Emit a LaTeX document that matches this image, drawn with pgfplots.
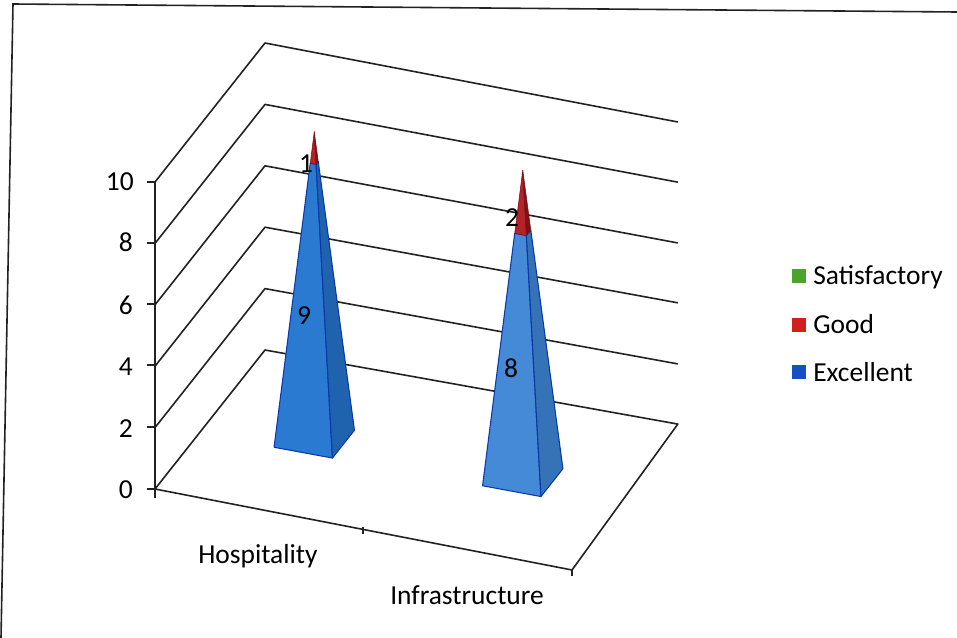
\documentclass[border=0pt]{standalone}
\usepackage{pgfplots}
\pgfplotsset{compat=1.18}
\usepackage{fontspec}
\setmainfont{Carlito}

\definecolor{blueface}{HTML}{2A7AD2}
\definecolor{blueside}{HTML}{1F62AE}
\definecolor{blueedge}{HTML}{0B3AA8}
\definecolor{redface}{HTML}{B4222A}
\definecolor{redside}{HTML}{7C1414}
\definecolor{rededge}{HTML}{7A1018}
\definecolor{greenkey}{HTML}{4BA32C}
\definecolor{redkey}{HTML}{D0201C}
\definecolor{bluekey}{HTML}{1450C0}
\definecolor{inkline}{HTML}{222222}

\begin{document}
% 1 unit of the picture = 1 pixel of the reference
\begin{tikzpicture}[x=0.75pt,y=-0.75pt,font=\fontsize{20.6}{24}\selectfont]
\path[use as bounding box] (0,0) rectangle (957,638);

% scanned frame
\draw[inkline,line width=1.2pt] (957,12) -- (13,4) -- (1,638);

\begin{axis}[
  at={(116.25pt,-366.75pt)}, anchor=origin,
  x={(156.375pt,-28.875pt)}, y={(82.5pt,104.25pt)}, z={(0pt,23.025pt)},
  xmin=0, xmax=2, ymin=0, ymax=1, zmin=0, zmax=10,
  hide axis, clip=false,
  wall/.style={inkline,line width=1.2pt,no marks},
  every axis plot post/.append style={line join=round},
]
% walls and floor
\addplot3[wall] coordinates {(0,0,10) (0,1,10) (1.98,1,9.91)};
\addplot3[wall] coordinates {(0,0,8) (0,1,8) (1.98,1,7.95)};
\addplot3[wall] coordinates {(0,0,6) (0,1,6) (1.98,1,5.97)};
\addplot3[wall] coordinates {(0,0,4) (0,1,4) (1.98,1,4.02)};
\addplot3[wall] coordinates {(0,0,2) (0,1,2) (1.98,1,2.03)};
\addplot3[wall] coordinates {(0,0,0) (0,1,0) (1.98,1,0.07) (2,0,-0.13) (0,0,0)};

% Hospitality: Excellent 9, Good 1
\addplot3[fill=blueface,draw=blueedge,line width=0.8pt,no marks] coordinates {(0.36,0.4,0) (0.64,0.4,0) (0.514,0.49,9) (0.486,0.49,9) (0.36,0.4,0)};
\addplot3[fill=blueside,draw=blueedge,line width=0.8pt,no marks] coordinates {(0.64,0.4,0) (0.64,0.6,0) (0.514,0.51,9) (0.514,0.49,9) (0.64,0.4,0)};
\addplot3[fill=redface,draw=rededge,line width=0.4pt,no marks] coordinates {(0.486,0.49,9) (0.514,0.49,9) (0.5,0.5,10) (0.486,0.49,9)};
\addplot3[fill=redside,draw=rededge,line width=0.4pt,no marks] coordinates {(0.514,0.49,9) (0.514,0.51,9) (0.5,0.5,10) (0.514,0.49,9)};

% Infrastructure: Excellent 8, Good 2
\addplot3[fill=blueface!88!white,draw=blueedge,line width=0.8pt,no marks] coordinates {(1.36,0.4,0) (1.64,0.4,0) (1.528,0.48,8) (1.472,0.48,8) (1.36,0.4,0)};
\addplot3[fill=blueside!90!white,draw=blueedge,line width=0.8pt,no marks] coordinates {(1.64,0.4,0) (1.64,0.6,0) (1.528,0.52,8) (1.528,0.48,8) (1.64,0.4,0)};
\addplot3[fill=redface,draw=rededge,line width=0.4pt,no marks] coordinates {(1.472,0.48,8) (1.528,0.48,8) (1.5,0.5,10) (1.472,0.48,8)};
\addplot3[fill=redside,draw=rededge,line width=0.4pt,no marks] coordinates {(1.528,0.48,8) (1.528,0.52,8) (1.5,0.5,10) (1.528,0.48,8)};
\end{axis}

% vertical axis and ticks
\draw[inkline,line width=1.2pt] (155,182) -- (155,498);
\foreach \yy in {182,243,304,365,427,489} \draw[inkline,line width=1.2pt] (147,\yy) -- (155,\yy);
\draw[inkline,line width=1.2pt] (363,527) -- (363,534);
\draw[inkline,line width=1.2pt] (572,569) -- (572,576);

% tick labels
\node[anchor=base east,inner sep=0pt] at (133,498) {0};
\node[anchor=base east,inner sep=0pt] at (133,437) {2};
\node[anchor=base east,inner sep=0pt] at (133,375) {4};
\node[anchor=base east,inner sep=0pt] at (133,314) {6};
\node[anchor=base east,inner sep=0pt] at (133,252) {8};
\node[anchor=base east,inner sep=0pt] at (134,191) {10};
\node[anchor=base,inner sep=0pt] at (258,563) {Hospitality};
\node[anchor=base,inner sep=0pt] at (467,604) {Infrastructure};

% value labels
\node[inner sep=0pt] at (306,164) {1};
\node[inner sep=0pt] at (304,316) {9};
\node[inner sep=0pt] at (512,218) {2};
\node[inner sep=0pt] at (511,368) {8};

% legend
\fill[greenkey] (792,269) rectangle (806,283);
\fill[redkey] (792,318) rectangle (806,332);
\fill[bluekey] (792,365) rectangle (806,379);
\node[anchor=base west,inner sep=0pt] at (813,284) {Satisfactory};
\node[anchor=base west,inner sep=0pt] at (813,333) {Good};
\node[anchor=base west,inner sep=0pt] at (813,381) {Excellent};
\end{tikzpicture}
\end{document}
